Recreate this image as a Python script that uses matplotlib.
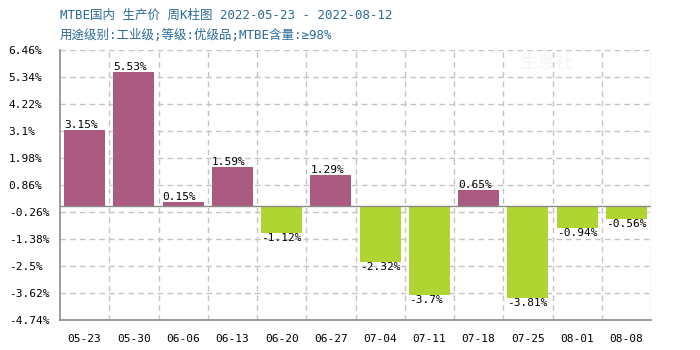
import numpy as np
import matplotlib
matplotlib.use("Agg")
import matplotlib.pyplot as plt

plt.rcParams['font.family'] = ['Noto Sans CJK SC', 'DejaVu Sans']

# data
weeks = ["05-23", "05-30", "06-06", "06-13", "06-20", "06-27",
         "07-04", "07-11", "07-18", "07-25", "08-01", "08-08"]
changes = [3.15, 5.53, 0.15, 1.59, -1.12, 1.29, -2.32, -3.7, 0.65, -3.81, -0.94, -0.56]
change_labels = ["3.15%", "5.53%", "0.15%", "1.59%", "-1.12%", "1.29%",
                 "-2.32%", "-3.7%", "0.65%", "-3.81%", "-0.94%", "-0.56%"]
y_ticks = [6.46, 5.34, 4.22, 3.1, 1.98, 0.86, -0.26, -1.38, -2.5, -3.62, -4.74]
y_tick_labels = ["6.46%", "5.34%", "4.22%", "3.1%", "1.98%", "0.86%",
                 "-0.26%", "-1.38%", "-2.5%", "-3.62%", "-4.74%"]

title = "MTBE国内 生产价 周K柱图 2022-05-23 - 2022-08-12"
subtitle = "用途级别:工业级;等级:优级品;MTBE含量:≥98%"

UP = "#AB5A80"
DOWN = "#AED532"
GRID = "#c4c4c4"
AXIS = "#8a8a8a"
MONO = ['DejaVu Sans Mono', 'Noto Sans CJK SC']

fig = plt.figure(figsize=(7, 3.5), dpi=100)
ax = fig.add_axes([60 / 700, 30 / 350, 591 / 700, 270 / 350])

x = np.arange(len(weeks))
colors = [UP if v >= 0 else DOWN for v in changes]
bw = 0.83
ax.bar(x, changes, width=bw, color=colors, zorder=3)

ax.set_xlim(-0.5, len(weeks) - 0.5)
ax.set_ylim(min(y_ticks), max(y_ticks))

# grid
for yt in y_ticks:
    ax.axhline(yt, color=GRID, lw=1, ls=(0, (4, 3)), zorder=1)
for b in np.arange(0.5, len(weeks) + 0.5, 1):
    ax.axvline(b, color=GRID, lw=1, ls=(0, (4, 3)), zorder=1)
ax.axhline(0, color=AXIS, lw=1, zorder=4)

for s in ["top", "right"]:
    ax.spines[s].set_visible(False)
for s in ["left", "bottom"]:
    ax.spines[s].set_color(AXIS)
    ax.spines[s].set_linewidth(1.2)

ax.set_yticks(y_ticks)
ax.set_yticklabels(y_tick_labels, fontsize=8, family='DejaVu Sans Mono')
ax.tick_params(axis='y', length=0, pad=37)
for lab in ax.get_yticklabels():
    lab.set_horizontalalignment('left')

ax.set_xticks(x)
ax.set_xticklabels(weeks, fontsize=8, family='DejaVu Sans Mono')
ax.tick_params(axis='x', length=0, pad=10)

for xi, v, lab in zip(x, changes, change_labels):
    if v >= 0:
        ax.text(xi - bw / 2, v, lab, ha='left', va='bottom', fontsize=8,
                family='DejaVu Sans Mono', zorder=5)
    else:
        ax.text(xi - bw / 2, v, lab, ha='left', va='top', fontsize=8,
                family='DejaVu Sans Mono', zorder=5)

# watermark
fig.text(0.78, 0.82, "生意社", fontsize=13, color="#f7f3f3", ha='center', va='center')

fig.text(60 / 700, 1 - 15 / 350, title, fontsize=9, color="#2a6a9a", va='center', family=MONO)
fig.text(60 / 700, 1 - 35 / 350, subtitle, fontsize=9, color="#2a6a9a", va='center', family=MONO)

fig.savefig("out.png", dpi=100)
